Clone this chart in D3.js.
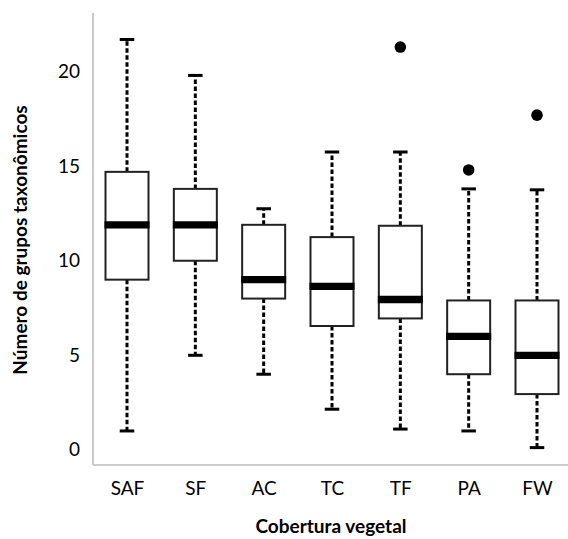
<!DOCTYPE html>
<html>
<head>
<meta charset="utf-8">
<script src="https://cdn.jsdelivr.net/npm/d3@7"></script>
<style>
  html, body { margin: 0; padding: 0; background: #fff; }
  svg { display: block; font-family: Lato, "Open Sans", sans-serif; }
</style>
</head>
<body>
<svg id="chart" width="568" height="539"></svg>
<script>
// Vegetation cover classes
const categories = ["SAF", "SF", "AC", "TC", "TF", "PA", "FW"];
// Five-number summaries per class
const whiskerLow  = [1.0, 5.0, 4.0, 2.15, 1.1, 1.0, 0.12];
const q1          = [9.0, 10.0, 8.0, 6.55, 6.95, 4.0, 2.95];
const medians     = [11.9, 11.9, 9.0, 8.65, 7.95, 6.0, 5.0];
const q3          = [14.7, 13.8, 11.9, 11.25, 11.85, 7.9, 7.9];
const whiskerHigh = [21.7, 19.8, 12.75, 15.75, 15.75, 13.8, 13.75];
// Outlying observations
const outlierCats   = ["TF", "PA", "FW"];
const outlierValues = [21.3, 14.8, 17.7];
const yTicks = [0, 5, 10, 15, 20];

const boxes = categories.map((c, i) => ({
  cat: c, lo: whiskerLow[i], q1: q1[i], med: medians[i], q3: q3[i], hi: whiskerHigh[i]
}));
const outliers = outlierCats.map((c, i) => ({ cat: c, v: outlierValues[i] }));

const svg = d3.select("#chart");
const plot = { left: 93, right: 568, top: 13, bottom: 465 };

const x = d3.scalePoint().domain(categories).range([127, 537]);
const y = d3.scaleLinear().domain([-0.8, 23.1]).range([plot.bottom, plot.top]);

const boxW = 43, capW = 14.5;

// Axes
const yAxis = svg.append("g")
  .attr("transform", `translate(${plot.left},0)`)
  .call(d3.axisLeft(y).tickValues(yTicks).tickSize(0).tickPadding(13));
yAxis.select(".domain").remove();
yAxis.selectAll("text").attr("font-size", 19).attr("fill", "#000")
  .attr("font-family", "Lato, sans-serif");

const xAxis = svg.append("g")
  .attr("transform", `translate(0,${plot.bottom})`)
  .call(d3.axisBottom(x).tickSize(0).tickPadding(17));
xAxis.select(".domain").remove();
xAxis.selectAll("text").attr("font-size", 19).attr("fill", "#000")
  .attr("font-family", "Lato, sans-serif");

// Axis lines
svg.append("line")
  .attr("x1", plot.left).attr("x2", plot.left)
  .attr("y1", plot.top).attr("y2", plot.bottom)
  .attr("stroke", "#bdbdbd").attr("stroke-width", 1.6);
svg.append("line")
  .attr("x1", plot.left).attr("x2", plot.right)
  .attr("y1", plot.bottom).attr("y2", plot.bottom)
  .attr("stroke", "#bdbdbd").attr("stroke-width", 1.6);

// Box plots
const g = svg.append("g").selectAll("g").data(boxes).join("g");

// whiskers (dashed)
g.append("line")
  .attr("x1", d => x(d.cat)).attr("x2", d => x(d.cat))
  .attr("y1", d => y(d.q3)).attr("y2", d => y(d.hi))
  .attr("stroke", "#000").attr("stroke-width", 3).attr("stroke-dasharray", "4.5,2.5");
g.append("line")
  .attr("x1", d => x(d.cat)).attr("x2", d => x(d.cat))
  .attr("y1", d => y(d.q1)).attr("y2", d => y(d.lo))
  .attr("stroke", "#000").attr("stroke-width", 3).attr("stroke-dasharray", "4.5,2.5");
// caps
g.append("line")
  .attr("x1", d => x(d.cat) - capW / 2).attr("x2", d => x(d.cat) + capW / 2)
  .attr("y1", d => y(d.hi)).attr("y2", d => y(d.hi))
  .attr("stroke", "#000").attr("stroke-width", 3);
g.append("line")
  .attr("x1", d => x(d.cat) - capW / 2).attr("x2", d => x(d.cat) + capW / 2)
  .attr("y1", d => y(d.lo)).attr("y2", d => y(d.lo))
  .attr("stroke", "#000").attr("stroke-width", 3);
// box
g.append("rect")
  .attr("x", d => x(d.cat) - boxW / 2).attr("width", boxW)
  .attr("y", d => y(d.q3)).attr("height", d => y(d.q1) - y(d.q3))
  .attr("fill", "#fff").attr("stroke", "#222").attr("stroke-width", 2);
// median
g.append("line")
  .attr("x1", d => x(d.cat) - boxW / 2 - 1).attr("x2", d => x(d.cat) + boxW / 2 + 1)
  .attr("y1", d => y(d.med)).attr("y2", d => y(d.med))
  .attr("stroke", "#000").attr("stroke-width", 7.3);

// outliers
svg.append("g").selectAll("circle").data(outliers).join("circle")
  .attr("cx", d => x(d.cat)).attr("cy", d => y(d.v)).attr("r", 5.8)
  .attr("fill", "#000");

// Axis titles
svg.append("text")
  .attr("x", 331).attr("y", 533)
  .attr("text-anchor", "middle").attr("font-size", 19).attr("font-weight", "bold")
  .attr("font-family", "Lato, sans-serif")
  .text("Cobertura vegetal");
svg.append("text")
  .attr("transform", "translate(27,240) rotate(-90)")
  .attr("text-anchor", "middle").attr("font-size", 19).attr("font-weight", "bold")
  .attr("font-family", "Lato, sans-serif")
  .text("Número de grupos taxonômicos");
</script>
</body>
</html>
